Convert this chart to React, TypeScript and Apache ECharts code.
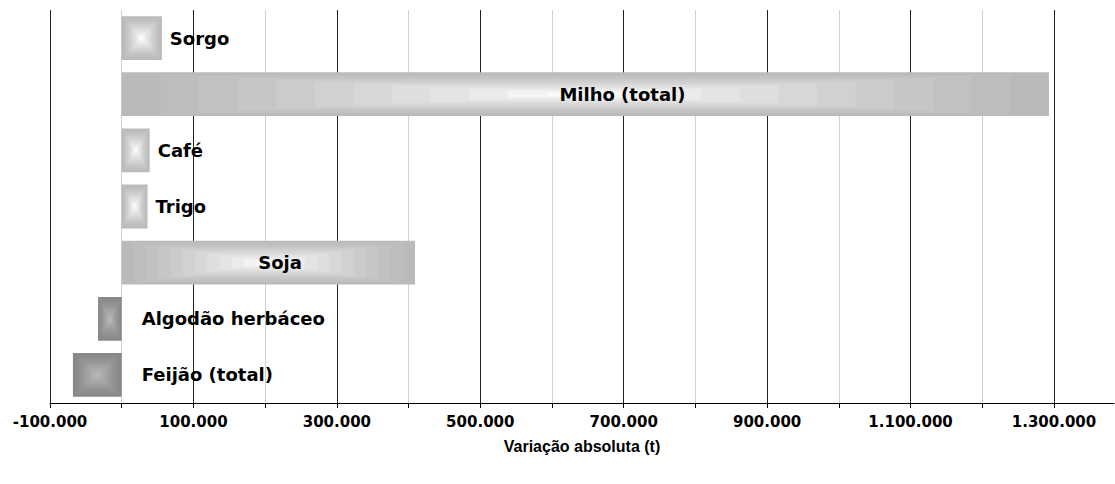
import React, { useEffect, useRef } from "react";
import * as echarts from "echarts";

const categories = ["Sorgo", "Milho (total)", "Café", "Trigo", "Soja", "Algodão herbáceo", "Feijão (total)"];
const values = [56000, 1293000, 39000, 36000, 409000, -33000, -68000];
const axisMin = -100000;
const axisMax = 1383700;
const axisStep = 100000;
const axisTitle = "Variação absoluta (t)";

function fmt(v: number): string {
  const s = Math.abs(v).toString().replace(/\B(?=(\d{3})+(?!\d))/g, ".");
  return (v < 0 ? "-" : "") + s;
}

function mix(a: number[], b: number[], t: number): string {
  const c = a.map((x, i) => Math.round(x + (b[i] - x) * t));
  return `rgb(${c[0]},${c[1]},${c[2]})`;
}

export default function App() {
  const ref = useRef<HTMLDivElement>(null);
  useEffect(() => {
    if (!ref.current) return;
    const chart = echarts.init(ref.current, null, { renderer: "svg" });
    const data = values.map((v, i) => [v, i]);
    chart.setOption({
      animation: false,
      grid: { left: 50, right: 1, top: 10, bottom: 81, containLabel: false },
      xAxis: {
        type: "value",
        min: axisMin,
        max: axisMax,
        interval: axisStep,
        name: axisTitle,
        nameLocation: "middle",
        nameGap: 35,
        nameTextStyle: { fontFamily: "Liberation Sans", fontWeight: "bold", fontSize: 16, color: "#000" },
        axisLine: { show: true, lineStyle: { color: "#000", width: 1 } },
        axisTick: { show: true, length: 5, lineStyle: { color: "#000" } },
        axisLabel: {
          margin: 11,
          fontFamily: "DejaVu Sans",
          fontWeight: "bold",
          fontSize: 15,
          color: "#000",
          showMaxLabel: false,
          formatter: (v: number) => (Math.round(v) % 200000 !== 0 && Math.round(v) % 100000 === 0 ? fmt(v) : ""),
        },
        splitLine: { show: true, showMaxLine: false, lineStyle: { color: ["#222", "#d0d0d0"], width: 1 } },
      },
      yAxis: {
        type: "category",
        data: categories,
        inverse: true,
        axisLine: { show: false },
        axisTick: { show: false },
        axisLabel: { show: false },
        splitLine: { show: false },
      },
      series: [
        {
          type: "custom",
          encode: { x: 0, y: 1 },
          data,
          renderItem: (params: any, api: any) => {
            const val = api.value(0);
            const cat = api.value(1);
            const p0 = api.coord([0, cat]);
            const p1 = api.coord([val, cat]);
            const h = api.size([0, 1])[1] * 0.78;
            const x0 = Math.min(p0[0], p1[0]);
            const w = Math.abs(p1[0] - p0[0]);
            const y0 = p0[1] - h / 2;
            const neg = val < 0;
            const edge = neg ? [136, 136, 136] : [186, 186, 186];
            const center = neg ? [184, 184, 184] : [250, 250, 250];
            const N = 12;
            const children: any[] = [];
            for (let k = 0; k < N; k++) {
              const f = k / N;
              const t = Math.pow(k / (N - 1), 1.3);
              children.push({
                type: "rect",
                shape: {
                  x: x0 + (f * w) / 2,
                  y: y0 + (f * h) / 2,
                  width: w * (1 - f),
                  height: h * (1 - f),
                },
                style: { fill: mix(edge, center, t) },
              });
            }
            const name = categories[cat];
            let tx: number;
            let align = "left";
            if (val > 200000) {
              tx = x0 + w * 0.54;
              align = "center";
            } else if (val >= 0) {
              tx = p1[0] + 8;
            } else {
              tx = p0[0] + 20;
            }
            children.push({
              type: "text",
              style: {
                text: name,
                x: tx,
                y: p0[1],
                align,
                verticalAlign: "middle",
                fontFamily: "DejaVu Sans",
                fontWeight: "bold",
                fontSize: 18,
                fill: "#000",
              },
            });
            return { type: "group", children };
          },
        },
      ],
    });
    return () => chart.dispose();
  }, []);
  return <div ref={ref} style={{ position: "absolute", left: 0, top: 0, width: 1115, height: 484 }} />;
}
